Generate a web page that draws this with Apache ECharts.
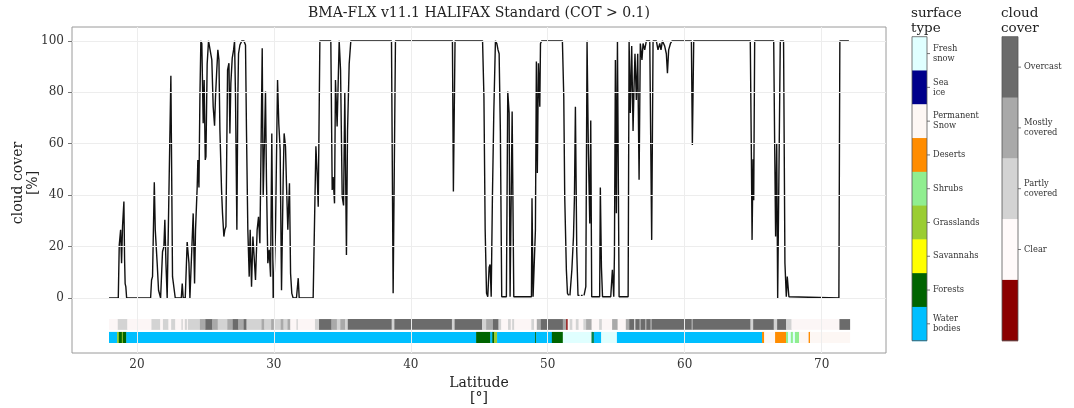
<!DOCTYPE html>
<html><head><meta charset="utf-8">
<script src="https://cdn.jsdelivr.net/npm/echarts@6/dist/echarts.min.js"></script>
<style>html,body{margin:0;padding:0;background:#fff}#c{width:1074px;height:408px}</style>
</head><body><div id="c"></div>
<script>
// ---- data ----
const lat = [17.96,18.64,18.71,18.81,18.88,18.95,19.05,19.10,19.14,19.19,19.25,21.0,21.07,21.14,21.27,21.34,21.41,21.48,21.58,21.73,21.87,21.97,22.04,22.12,22.21,22.34,22.48,22.60,22.70,22.80,23.24,23.31,23.38,23.53,23.67,23.80,23.87,23.99,24.11,24.21,24.28,24.40,24.45,24.53,24.60,24.67,24.74,24.84,24.91,24.99,25.04,25.13,25.23,25.35,25.47,25.57,25.67,25.74,25.82,25.91,25.99,26.06,26.18,26.25,26.35,26.42,26.50,26.55,26.62,26.72,26.79,26.86,26.96,27.06,27.13,27.20,27.30,27.37,27.42,27.52,27.66,27.81,27.93,28.00,28.10,28.20,28.27,28.37,28.47,28.56,28.66,28.78,28.88,28.98,29.08,29.15,29.22,29.32,29.39,29.46,29.56,29.66,29.76,29.85,29.95,30.0,30.12,30.27,30.36,30.46,30.56,30.68,30.75,30.85,30.92,31.02,31.14,31.22,31.31,31.41,31.65,31.78,31.85,32.87,33.07,33.16,33.24,33.36,34.16,34.26,34.33,34.43,34.50,34.62,34.77,34.87,34.99,35.09,35.18,35.30,35.38,35.50,35.62,38.59,38.71,38.88,43.04,43.11,43.23,45.24,45.34,45.43,45.53,45.62,45.72,45.79,45.87,45.96,46.06,46.18,46.28,46.37,46.45,46.54,46.64,46.98,47.08,47.18,47.25,47.40,47.52,48.81,48.85,48.93,49.10,49.17,49.24,49.32,49.42,49.47,49.56,51.07,51.17,51.24,51.36,51.44,51.53,51.58,51.62,51.70,51.76,51.88,51.95,52.02,52.12,52.21,52.32,52.36,52.42,52.55,52.60,52.65,52.78,52.87,52.97,53.07,53.14,53.21,53.79,53.84,53.92,54.00,54.60,54.72,54.82,54.87,54.94,55.01,55.09,55.21,55.87,55.94,56.03,56.13,56.23,56.30,56.37,56.47,56.57,56.67,56.76,56.88,56.96,57.08,57.20,57.45,57.59,57.69,57.93,58.05,58.18,58.27,58.37,58.54,58.66,58.74,58.83,58.96,59.08,60.49,60.56,60.66,64.79,64.87,64.92,64.99,65.04,65.11,66.50,66.57,66.64,66.72,66.79,66.89,66.98,67.22,67.32,67.42,67.49,67.61,71.26,71.33,71.99];
const cover = [0,0,20.6,26.5,13.5,27.9,37.5,14.9,5.6,4.4,0,0,7,8.3,45,26.5,27.2,13.5,3,0,18,20,30.4,13.5,0,0,86.4,8.3,8.3,0,0,5.6,0,0,21.8,13.5,0,0,32.9,5.6,26.5,43,53.7,43,78,100,99,68,84.8,53.7,55,91,100,100,92.6,74.4,67,78.3,87.4,96.5,92.6,65.4,42,33,23.9,26.5,27.8,52,88.7,91.3,64,83.5,93.3,96.5,100,78.3,26.5,78.3,95,98.4,100,100,98.4,65.4,26.5,8.3,26.5,4.4,23.9,16,7,26.5,31.6,21.3,65.4,97.1,39.4,62.3,80.3,46,13.5,18.7,8.3,64,0,3,26.5,84.8,67.9,57.6,3,46,64,58.9,44.6,26.5,44.6,9.6,1.8,0,0,7.7,0,0,59,48.6,35.5,100,100,42,47,36.8,84.8,66.7,100,88.7,39.4,36,80,16.7,65,91,100,100,1.8,100,100,41.4,100,100,78.3,26.5,1.8,0.5,12,13,0.5,39.4,71.9,100,99,96.5,95,65,0.5,0.5,80.3,72,0.5,72.5,0.5,0.5,38.8,0.5,26.5,92,48.6,91.3,74.4,99,100,100,78.3,39.4,10.9,1.8,1,null,1,1,10.9,23.9,39.4,74.4,18,1,1,null,1,1,null,1,4.4,100,56,29,69,0.5,0.5,43,12,0.5,0.5,11,0.5,17,92.6,33,100,0.5,0.5,100,72,98,65,82,95,77,95,46,99,92.6,99,96.5,100,100,22.6,100,100,96.5,99,96.5,100,98,95,87.4,96.5,99,100,100,59.5,100,100,55,22.6,54,38,100,100,60,23.9,60,0,0.5,100,100,13.5,0.5,8.3,0.5,0,100,100];

const xTicks = [20,30,40,50,60,70];
const yTicks = [0,20,40,60,80,100];

// cloud-cover strip: [start lat, end lat, class index into cloudNames]
const cloudNames = ['Clear','Partly\ncovered','Mostly\ncovered','Overcast',''];
const cloudColors = ['#fcf6f6','#d3d3d3','#a9a9a9','#6b6b6b','#8b0000'];
const cloudStrip = [[17.96,18.6,0],[18.6,19.3,1],[19.3,21.06,0],[21.06,21.7,1],[21.7,21.9,0],[21.9,22.3,1],[22.3,22.5,0],[22.5,22.8,1],[22.8,23.25,0],[23.25,23.35,1],[23.35,23.5,0],[23.5,23.65,1],[23.65,23.72,0],[23.72,24.6,1],[24.6,25.0,2],[25.0,25.5,3],[25.5,25.9,2],[25.9,26.6,1],[26.6,27.0,2],[27.0,27.4,3],[27.4,27.8,2],[27.8,28.0,3],[28.0,29.1,1],[29.1,29.3,2],[29.3,29.8,1],[29.8,30.0,2],[30.0,30.5,1],[30.5,30.7,2],[30.7,31.0,1],[31.0,31.2,2],[31.2,31.65,0],[31.65,31.75,1],[31.75,33.0,0],[33.0,33.3,1],[33.3,34.2,3],[34.2,34.6,2],[34.6,34.85,1],[34.85,35.2,2],[35.2,35.4,1],[35.4,38.6,3],[38.6,38.8,1],[38.8,43.0,3],[43.0,43.2,1],[43.2,45.2,3],[45.2,45.5,1],[45.5,46.0,2],[46.0,46.4,3],[46.4,46.6,1],[46.6,47.1,0],[47.1,47.3,1],[47.3,47.4,0],[47.4,47.55,1],[47.55,48.8,0],[48.8,49.0,1],[49.0,49.2,0],[49.2,49.5,2],[49.5,51.1,3],[51.1,51.35,2],[51.35,51.45,4],[51.45,51.6,0],[51.6,51.8,1],[51.8,52.05,0],[52.05,52.25,1],[52.25,52.6,0],[52.6,52.8,1],[52.8,53.2,2],[53.2,53.75,0],[53.75,53.95,1],[53.95,54.7,0],[54.7,55.1,2],[55.1,55.7,0],[55.7,55.95,2],[55.95,56.3,3],[56.3,56.4,1],[56.4,56.7,3],[56.7,56.8,2],[56.8,57.1,3],[57.1,57.2,2],[57.2,57.5,3],[57.5,57.6,2],[57.6,60.5,3],[60.5,60.6,2],[60.6,64.8,3],[64.8,65.0,1],[65.0,66.5,3],[66.5,66.75,1],[66.75,67.4,3],[67.4,67.8,1],[67.8,71.3,0],[71.3,72.05,3]];

// surface-type strip: [start lat, end lat, class index into surfaceNames]
const surfaceNames = ['Fresh\nsnow','Sea\nice','Permanent\nSnow','Deserts','Shrubs','Grasslands','Savannahs','Forests','Water\nbodies'];
const surfaceColors = ['#e0ffff','#00008b','#fdf7f4','#ff8c00','#90ee90','#9acd32','#ffff00','#006400','#00bfff'];
const surfaceStrip = [[17.96,18.55,8],[18.55,18.68,5],[18.68,18.9,7],[18.9,18.97,5],[18.97,19.22,7],[19.22,44.77,8],[44.77,45.8,7],[45.8,45.95,8],[45.95,46.08,7],[46.08,46.3,5],[46.3,49.08,8],[49.08,49.15,7],[49.15,50.3,8],[50.3,51.1,7],[51.1,53.2,0],[53.2,53.28,7],[53.28,53.33,8],[53.33,53.38,7],[53.38,53.9,8],[53.9,55.05,0],[55.05,65.65,8],[65.65,65.8,3],[65.8,66.6,2],[66.6,67.4,3],[67.4,67.55,4],[67.55,67.75,0],[67.75,67.9,4],[67.9,68.05,0],[68.05,68.35,4],[68.35,69.05,2],[69.05,69.15,3],[69.15,72.05,2]];

// ---- chart ----
const FONT = 'DejaVu Serif';
const chart = echarts.init(document.getElementById('c'), null, {renderer:'canvas'});

function stripRenderer(yTop, yBot, colors){
  return function(params, api){
    const p0 = api.coord([api.value(0), yTop]);
    const p1 = api.coord([api.value(1), yBot]);
    return {type:'rect', shape:{x:p0[0], y:p0[1], width:p1[0]-p0[0]+0.4, height:p1[1]-p0[1]},
      style:{fill:colors[api.value(2)]}};
  };
}

// colourbar legends (graphic)
const graphics = [];
function colorbar(x, w, top, h, names, colors, title){
  const n = colors.length, seg = h / n;
  graphics.push({type:'text', left:x-1, top:top-31, style:{text:title, fontFamily:FONT, fontSize:13.5, lineHeight:15, fill:'#222'}});
  for (let i=0;i<n;i++){
    graphics.push({type:'rect', shape:{x:x, y:top+i*seg, width:w, height:seg+0.5}, style:{fill:colors[i]}});
    if (names[i]){
      const yc = top + (i+0.5)*seg;
      graphics.push({type:'line', shape:{x1:x+w, y1:yc, x2:x+w+3, y2:yc}, style:{stroke:'#555', lineWidth:0.8}});
      graphics.push({type:'text', x:x+w+6, y:yc, style:{text:names[i], fontFamily:FONT, fontSize:8.3, lineHeight:10, fill:'#333', verticalAlign:'middle', align:'left'}});
    }
  }
  graphics.push({type:'rect', shape:{x:x, y:top, width:w, height:h}, style:{fill:'none', stroke:'#555', lineWidth:0.8}});
}
colorbar(912, 15, 36.7, 304, surfaceNames, surfaceColors, 'surface\ntype');
// order top->bottom: Overcast, Mostly, Partly, Clear, (no data)
colorbar(1002, 16, 36.7, 304, [cloudNames[3],cloudNames[2],cloudNames[1],cloudNames[0],cloudNames[4]],
  [cloudColors[3],cloudColors[2],cloudColors[1],'#fffafa',cloudColors[4]], 'cloud\ncover');
// y-axis title
graphics.push({type:'text', x:26, y:183, rotation:Math.PI/2,
  style:{text:'cloud cover\n[%]', fontFamily:FONT, fontSize:14, lineHeight:15, fill:'#222', align:'center', verticalAlign:'middle'}});

const option = {
  animation:false,
  backgroundColor:'#ffffff',
  title:{text:'BMA-FLX v11.1 HALIFAX Standard (COT > 0.1)', left:479, top:6, textAlign:'center', padding:0,
    textStyle:{fontFamily:FONT, fontSize:14, fontWeight:'normal', color:'#222'}},
  grid:{left:72, right:188, top:27, bottom:55, show:true, borderColor:'#9a9a9a', borderWidth:1,
    backgroundColor:'transparent', containLabel:false, outerBoundsMode:'none'},
  xAxis:{type:'value', min:15.26, max:74.7,
    name:'Latitude\n[°]', nameLocation:'middle', nameGap:20,
    nameTextStyle:{fontFamily:FONT, fontSize:14, color:'#222', lineHeight:15},
    axisLine:{show:false}, splitLine:{show:false},
    axisTick:{show:true, length:4, customValues:xTicks, lineStyle:{color:'#777'}},
    axisLabel:{customValues:xTicks, fontFamily:FONT, fontSize:12, color:'#333', margin:6}},
  yAxis:{type:'value', min:-21.4, max:105.4,
    axisLine:{show:false}, splitLine:{show:false},
    axisTick:{show:true, length:4, customValues:yTicks, lineStyle:{color:'#777'}},
    axisLabel:{customValues:yTicks, fontFamily:FONT, fontSize:12, color:'#333', margin:8}},
  graphic:graphics,
  series:[
    {type:'line', data:[], silent:true, z:0,
      markLine:{silent:true, symbol:['none','none'], label:{show:false}, animation:false,
        lineStyle:{color:'#ededed', width:1, type:'solid'},
        data:xTicks.map(v=>({xAxis:v})).concat(yTicks.map(v=>({yAxis:v})))}},
    {type:'custom', renderItem:stripRenderer(-8.2,-12.4,cloudColors), data:cloudStrip, encode:{x:[0,1]}, silent:true, z:1},
    {type:'custom', renderItem:stripRenderer(-13.2,-17.5,surfaceColors), data:surfaceStrip, encode:{x:[0,1]}, silent:true, z:1},
    {type:'line', data:lat.map((x,i)=>[x, cover[i]]), showSymbol:false, connectNulls:false, z:3,
      lineStyle:{color:'#111', width:1.4}, silent:true}
  ]
};
chart.setOption(option);
</script>
</body></html>
